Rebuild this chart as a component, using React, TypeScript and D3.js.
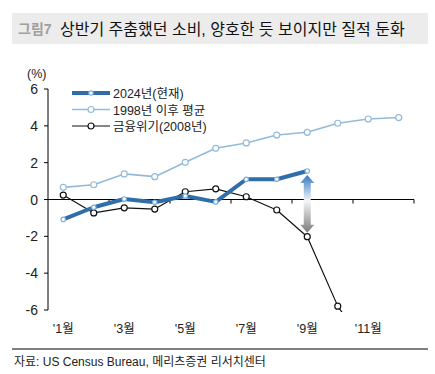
import * as d3 from "d3";

const months = ["1", "2", "3", "4", "5", "6", "7", "8", "9", "10", "11", "12"];
const monthLabels = ["'1월", "'3월", "'5월", "'7월", "'9월", "'11월"];
const yTicks = [6, 4, 2, 0, -2, -4, -6];

const current2024 = [-1.08, -0.42, 0.03, -0.15, 0.19, -0.13, 1.1, 1.1, 1.55];
const avgSince1998 = [0.66, 0.8, 1.39, 1.24, 2.02, 2.78, 3.07, 3.5, 3.65, 4.14, 4.37, 4.45];
const crisis2008 = [0.24, -0.73, -0.45, -0.52, 0.42, 0.58, 0.15, -0.57, -2.02, -5.79, -8.2];

const seriesNames = ["2024년(현재)", "1998년  이후  평균", "금융위기(2008년)"];

const FONT = "'Liberation Sans', 'Noto Sans CJK KR', sans-serif";

export default function App() {
  const width = 435;
  const height = 374;
  const left = 48;
  const right = 414;
  const top = 89;
  const bottom = 310;

  const x = d3.scaleBand<string>().domain(months).range([left, right]);
  const y = d3.scaleLinear().domain([-6, 6]).range([bottom, top]);
  const cx = (i: number) => (x(months[i]) ?? 0) + x.bandwidth() / 2;

  const line = d3
    .line<number>()
    .x((_, i) => cx(i))
    .y((d) => y(d));

  const series = [
    { name: seriesNames[0], data: current2024, color: "#2f6ea8", w: 4, r: 2.2 },
    { name: seriesNames[1], data: avgSince1998, color: "#93bad9", w: 1.6, r: 3 },
    { name: seriesNames[2], data: crisis2008, color: "#111111", w: 1.2, r: 3 },
  ];

  // arrow between 2024 and 2008 at month 9
  const ax = cx(8);
  const aTop = y(current2024[8]) + 4;
  const aBot = y(crisis2008[8]) - 4;

  const bandTicks = months.filter((_, i) => i % 2 === 0).map((m) => x(m) ?? 0).concat([right]).slice(1);

  return (
    <svg width={width} height={height} style={{ position: "absolute", left: 0, top: 0 }} fontFamily={FONT}>
      <defs>
        <linearGradient id="arrowGrad" x1="0" y1="0" x2="0" y2="1">
          <stop offset="0%" stopColor="#2f78c0" />
          <stop offset="45%" stopColor="#f4f6f8" />
          <stop offset="100%" stopColor="#7a7a7a" />
        </linearGradient>
        <clipPath id="plotClip">
          <rect x={left} y={top - 10} width={right - left + 10} height={bottom - top + 12} />
        </clipPath>
      </defs>
      <rect width={width} height={height} fill="#fff" />

      {/* title */}
      <rect x={12} y={13} width={416} height={31} fill="#ececec" />
      <text x={18} y={34} fontSize={14} fontWeight="bold" fill="#a0a0a0">그림7</text>
      <text x={60} y={35} fontSize={16} fill="#111">상반기 주춤했던 소비, 양호한 듯 보이지만 질적 둔화</text>

      <text x={27} y={78} fontSize={12.5} fill="#222">(%)</text>

      {/* y axis */}
      <line x1={left} x2={left} y1={top} y2={bottom} stroke="#000" strokeWidth={1} />
      {yTicks.map((t) => (
        <g key={t}>
          <line x1={left - 4} x2={left} y1={y(t)} y2={y(t)} stroke="#000" />
          <text x={38} y={y(t) + 5} fontSize={14} textAnchor="end" fill="#222">{t}</text>
        </g>
      ))}

      {/* x axis at zero */}
      <line x1={left} x2={right} y1={y(0)} y2={y(0)} stroke="#000" />
      {bandTicks.map((t, i) => (
        <line key={i} x1={t} x2={t} y1={y(0)} y2={y(0) + 4} stroke="#000" />
      ))}
      {monthLabels.map((l, i) => (
        <text key={l} x={cx(i * 2)} y={333} fontSize={12.5} textAnchor="middle" fill="#222">{l}</text>
      ))}

      {/* arrow */}
      <path
        d={`M${ax},${aTop} L${ax + 7},${aTop + 8} L${ax + 3.5},${aTop + 8} L${ax + 3.5},${aBot - 8} L${ax + 7},${aBot - 8} L${ax},${aBot} L${ax - 7},${aBot - 8} L${ax - 3.5},${aBot - 8} L${ax - 3.5},${aTop + 8} L${ax - 7},${aTop + 8} Z`}
        fill="url(#arrowGrad)"
      />

      {/* series (draw in reverse so 2024 sits on top) */}
      <g clipPath="url(#plotClip)">
        {[...series].reverse().map((s) => (
          <g key={s.name}>
            <path d={line(s.data) ?? ""} fill="none" stroke={s.color} strokeWidth={s.w} strokeLinejoin="round" />
            {s.data.map((d, i) => (
              <circle key={i} cx={cx(i)} cy={y(d)} r={s.r} fill="#fff" stroke={s.color === "#2f6ea8" ? "#7fb0dd" : s.color} strokeWidth={1.2} />
            ))}
          </g>
        ))}
      </g>

      {/* legend */}
      {series.map((s, i) => (
        <g key={s.name} transform={`translate(0, ${93 + i * 16.5})`}>
          <line x1={72} x2={110} y1={0} y2={0} stroke={s.color} strokeWidth={s.w} />
          <circle cx={91} cy={0} r={s.r} fill="#fff" stroke={i === 0 ? "#7fb0dd" : s.color} strokeWidth={1.2} />
          <text x={113} y={5} fontSize={12.5} fill="#222">{s.name}</text>
        </g>
      ))}

      {/* footer */}
      <line x1={12} x2={428} y1={349} y2={349} stroke="#000" />
      <text x={14} y={366} fontSize={12} fill="#222">자료: US Census Bureau, 메리츠증권 리서치센터</text>
    </svg>
  );
}
